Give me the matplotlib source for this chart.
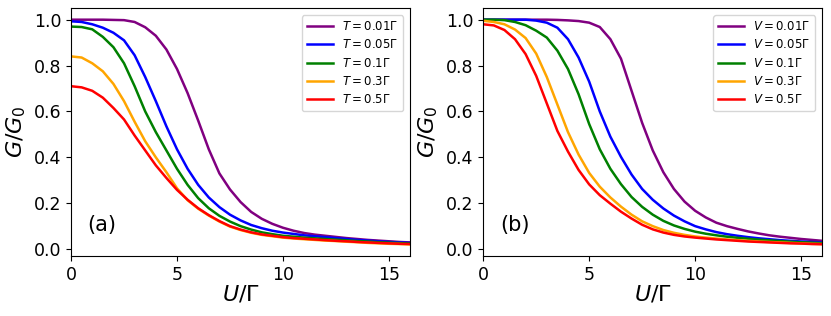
import matplotlib
matplotlib.use("Agg")
import matplotlib.pyplot as plt
import numpy as np

# U/Gamma grid (both panels sampled every 0.5)
u_vals = np.arange(0, 16.01, 0.5)

# ---- panel (a): temperature ----
t_labels = [r"$T=0.01\Gamma$", r"$T=0.05\Gamma$", r"$T=0.1\Gamma$",
            r"$T=0.3\Gamma$", r"$T=0.5\Gamma$"]
g_t001 = [1.0, 1.0, 1.0, 1.0, 0.999, 0.998, 0.99, 0.967, 0.93, 0.87, 0.785,
          0.68, 0.56, 0.435, 0.33, 0.26, 0.205, 0.162, 0.132, 0.11, 0.093, 0.08,
          0.07, 0.063, 0.058, 0.053, 0.048, 0.044, 0.04, 0.037, 0.034, 0.031, 0.029]
g_t005 = [0.993, 0.99, 0.98, 0.965, 0.943, 0.91, 0.845, 0.75, 0.645, 0.535, 0.435,
          0.35, 0.28, 0.225, 0.183, 0.15, 0.125, 0.105, 0.091, 0.08, 0.072, 0.066,
          0.06, 0.056, 0.052, 0.048, 0.044, 0.04, 0.037, 0.034, 0.031, 0.029, 0.027]
g_t01 = [0.97, 0.968, 0.958, 0.925, 0.88, 0.81, 0.71, 0.60, 0.51, 0.43, 0.35,
         0.28, 0.222, 0.178, 0.145, 0.12, 0.10, 0.085, 0.073, 0.065, 0.058, 0.054,
         0.05, 0.047, 0.044, 0.041, 0.038, 0.035, 0.033, 0.03, 0.028, 0.026, 0.024]
g_t03 = [0.84, 0.835, 0.81, 0.775, 0.72, 0.645, 0.555, 0.47, 0.40, 0.335, 0.265,
         0.213, 0.176, 0.146, 0.12, 0.098, 0.083, 0.071, 0.062, 0.056, 0.05, 0.046,
         0.043, 0.04, 0.037, 0.035, 0.032, 0.03, 0.027, 0.025, 0.023, 0.022, 0.02]
g_t05 = [0.71, 0.705, 0.69, 0.66, 0.615, 0.565, 0.495, 0.43, 0.365, 0.31, 0.258,
         0.215, 0.178, 0.148, 0.122, 0.10, 0.085, 0.073, 0.064, 0.058, 0.052, 0.048,
         0.045, 0.042, 0.039, 0.036, 0.034, 0.031, 0.029, 0.027, 0.025, 0.023, 0.022]

# ---- panel (b): bias voltage ----
v_labels = [r"$V=0.01\Gamma$", r"$V=0.05\Gamma$", r"$V=0.1\Gamma$",
            r"$V=0.3\Gamma$", r"$V=0.5\Gamma$"]
g_v001 = [1.0, 1.0, 1.0, 1.0, 1.0, 1.0, 1.0, 0.999, 0.997, 0.994, 0.987,
          0.968, 0.915, 0.83, 0.69, 0.55, 0.43, 0.335, 0.262, 0.207, 0.167, 0.138,
          0.115, 0.1, 0.088, 0.077, 0.068, 0.06, 0.054, 0.049, 0.044, 0.04, 0.036]
g_v005 = [1.0, 1.0, 1.0, 1.0, 1.0, 0.996, 0.987, 0.965, 0.915, 0.835, 0.73,
          0.60, 0.49, 0.402, 0.325, 0.262, 0.215, 0.177, 0.146, 0.121, 0.10, 0.086,
          0.074, 0.065, 0.058, 0.052, 0.047, 0.043, 0.039, 0.036, 0.033, 0.031, 0.029]
g_v01 = [1.0, 1.0, 0.998, 0.99, 0.976, 0.952, 0.922, 0.865, 0.785, 0.675, 0.545,
         0.435, 0.35, 0.283, 0.227, 0.184, 0.15, 0.123, 0.103, 0.088, 0.076, 0.067,
         0.06, 0.054, 0.049, 0.045, 0.041, 0.038, 0.035, 0.032, 0.03, 0.028, 0.026]
g_v03 = [0.995, 0.99, 0.98, 0.957, 0.92, 0.852, 0.75, 0.63, 0.51, 0.412, 0.332,
         0.272, 0.225, 0.185, 0.15, 0.121, 0.10, 0.083, 0.071, 0.062, 0.055, 0.05,
         0.046, 0.042, 0.039, 0.036, 0.033, 0.031, 0.029, 0.027, 0.025, 0.023, 0.022]
g_v05 = [0.98, 0.975, 0.955, 0.915, 0.85, 0.755, 0.635, 0.515, 0.425, 0.345, 0.282,
         0.235, 0.198, 0.163, 0.133, 0.106, 0.086, 0.072, 0.062, 0.055, 0.05, 0.046,
         0.042, 0.039, 0.036, 0.033, 0.031, 0.029, 0.027, 0.025, 0.024, 0.022, 0.021]

colors = ["purple", "blue", "green", "orange", "red"]

fig = plt.figure(figsize=(8.31, 3.16), dpi=100)
ax_a = fig.add_axes([0.0855, 0.19, 0.408, 0.784])
ax_b = fig.add_axes([0.5815, 0.19, 0.408, 0.784])

panels = [
    (ax_a, [g_t001, g_t005, g_t01, g_t03, g_t05], t_labels, "(a)", 1.45),
    (ax_b, [g_v001, g_v005, g_v01, g_v03, g_v05], v_labels, "(b)", 1.49),
]

for ax, series, labels, tag, tag_x in panels:
    for ys, c, lab in zip(series, colors, labels):
        ax.plot(u_vals, ys, color=c, lw=1.8, label=lab)
    ax.set_xlim(0, 16)
    ax.set_ylim(-0.03, 1.05)
    ax.set_xticks([0, 5, 10, 15])
    ax.set_yticks([0.0, 0.2, 0.4, 0.6, 0.8, 1.0])
    ax.tick_params(labelsize=12.5)
    ax.set_xlabel(r"$U/\Gamma$", fontsize=16, labelpad=0)
    ax.set_ylabel(r"$G/G_0$", fontsize=16, labelpad=4)
    ax.text(tag_x, 0.105, tag, fontsize=15, ha="center", va="center")
    ax.legend(loc="upper right", fontsize=8.5, handlelength=2.2,
              borderaxespad=0.6, labelspacing=0.45)

fig.savefig("out.png", dpi=100)
